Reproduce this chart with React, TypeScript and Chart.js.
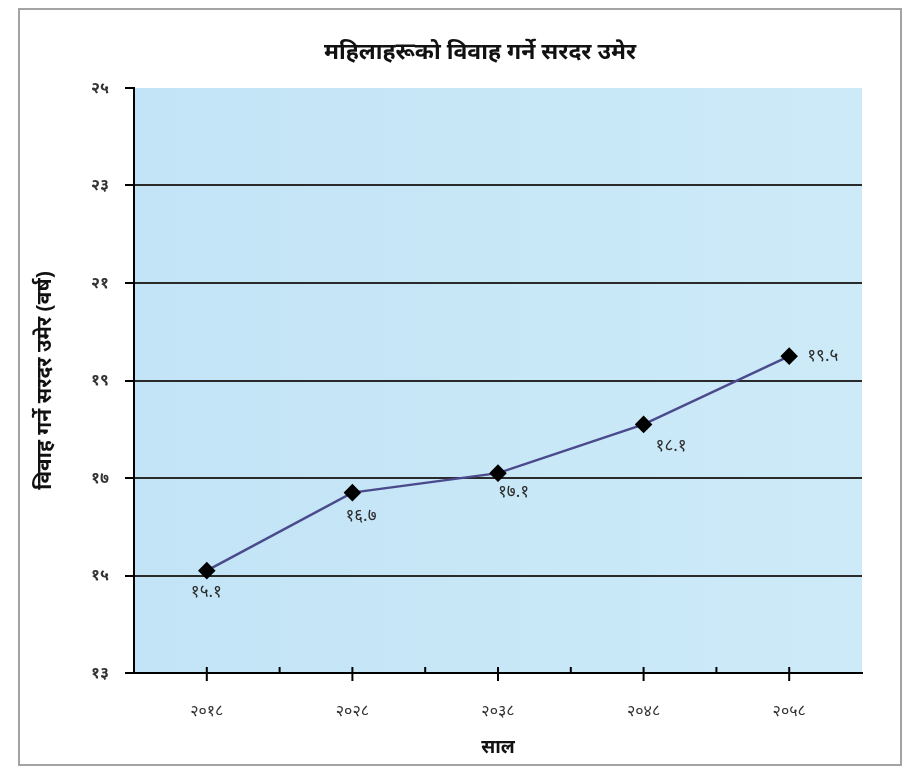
import React, { useEffect, useRef } from "react";
import { Chart, registerables } from "chart.js";

Chart.register(...registerables);

const chartTitle = "महिलाहरूको विवाह गर्ने सरदर उमेर";
const yAxisTitle = "विवाह गर्ने सरदर उमेर (वर्ष)";
const xAxisTitle = "साल";
const years = ["२०१८", "२०२८", "२०३८", "२०४८", "२०५८"];
const ages = [15.1, 16.7, 17.1, 18.1, 19.5];
const ageLabels = ["१५.१", "१६.७", "१७.१", "१८.१", "१९.५"];
const yTicks = [13, 15, 17, 19, 21, 23, 25];
const yTickLabels = ["१३", "१५", "१७", "१९", "२१", "२३", "२५"];

const FONT = "'Noto Sans', 'DejaVu Sans', sans-serif";

const decorPlugin = {
  id: "decor",
  beforeDraw(chart: any) {
    const { ctx, chartArea, width, height } = chart;
    ctx.save();
    ctx.fillStyle = "#ffffff";
    ctx.fillRect(0, 0, width, height);
    ctx.strokeStyle = "#a3a3a3";
    ctx.lineWidth = 2;
    ctx.strokeRect(11, 1, width - 12, height - 3);
    const g = ctx.createLinearGradient(chartArea.left, 0, chartArea.right, 0);
    g.addColorStop(0, "#c2e4f6");
    g.addColorStop(1, "#cdeaf8");
    ctx.fillStyle = g;
    ctx.fillRect(chartArea.left, chartArea.top, chartArea.right - chartArea.left, chartArea.bottom - chartArea.top);
    ctx.fillStyle = "#111";
    ctx.font = `bold 23px ${FONT}`;
    ctx.textAlign = "center";
    ctx.textBaseline = "middle";
    ctx.fillText(chartTitle, 472, 44);
    ctx.restore();
  },
  afterDatasetsDraw(chart: any) {
    const { ctx } = chart;
    const xs = chart.scales.x;
    const y0 = chart.chartArea.bottom;
    ctx.save();
    ctx.strokeStyle = "#000";
    ctx.lineWidth = 2;
    const n = years.length;
    for (let i = 0; i < n; i++) {
      const x = xs.getPixelForValue(i);
      ctx.beginPath();
      ctx.moveTo(x, y0 - 6);
      ctx.lineTo(x, y0 + 8);
      ctx.stroke();
      if (i < n - 1) {
        const xm = (x + xs.getPixelForValue(i + 1)) / 2;
        ctx.beginPath();
        ctx.moveTo(xm, y0 - 6);
        ctx.lineTo(xm, y0);
        ctx.stroke();
      }
    }
    const offsets = [
      [-16, 22],
      [-7, 24],
      [0, 19],
      [12, 22],
      [18, 0],
    ];
    const meta = chart.getDatasetMeta(0);
    ctx.fillStyle = "#2b2b2b";
    ctx.font = `17px ${FONT}`;
    ctx.textAlign = "left";
    ctx.textBaseline = "middle";
    meta.data.forEach((pt: any, i: number) => {
      ctx.fillText(ageLabels[i], pt.x + offsets[i][0], pt.y + offsets[i][1]);
    });
    ctx.restore();
  },
};

export default function App() {
  const ref = useRef<HTMLCanvasElement>(null);
  useEffect(() => {
    if (!ref.current) return;
    const chart = new Chart(ref.current, {
      type: "line",
      data: {
        labels: years,
        datasets: [
          {
            data: ages,
            borderColor: "#4a4a8c",
            borderWidth: 2.5,
            pointStyle: "rectRot",
            pointRadius: 7,
            pointBackgroundColor: "#000",
            pointBorderColor: "#000",
            tension: 0,
          },
        ],
      },
      options: {
        responsive: false,
        animation: false,
        layout: { padding: { left: 0, right: 40, top: 80, bottom: 0 } },
        plugins: { legend: { display: false }, tooltip: { enabled: false }, title: { display: false } },
        scales: {
          x: {
            offset: true,
            grid: { display: false, drawTicks: false },
            border: { display: true, color: "#000", width: 2 },
            ticks: { padding: 29, color: "#333", font: { size: 16, family: FONT } },
            title: {
              display: true,
              text: xAxisTitle,
              color: "#111",
              font: { size: 19, weight: "bold", family: FONT },
              padding: { top: 4, bottom: 8 },
            },
            afterFit: (s: any) => {
              s.height = 94;
            },
          },
          y: {
            min: 13,
            max: 25,
            ticks: {
              stepSize: 2,
              padding: 16,
              color: "#333",
              font: { size: 16, weight: "bold", family: FONT },
              callback: (v: any) => {
                const i = yTicks.indexOf(Number(v));
                return i >= 0 ? yTickLabels[i] : "";
              },
            },
            grid: {
              color: (c: any) => (c.tick && (c.tick.value === 25 || c.tick.value === 13) ? "rgba(0,0,0,0)" : "#2a2a2a"),
              tickColor: "#000",
              tickLength: 9,
              lineWidth: 2,
            },
            border: { display: true, color: "#000", width: 2 },
            title: {
              display: true,
              text: yAxisTitle,
              color: "#111",
              font: { size: 21, weight: "bold", family: FONT },
              padding: { top: 24, bottom: 4 },
            },
            afterFit: (s: any) => {
              s.width = 126;
            },
          },
        },
      },
      plugins: [decorPlugin],
    });
    return () => chart.destroy();
  }, []);
  return (
    <div>
      <canvas ref={ref} width={894} height={759} style={{ display: "block" }} />
    </div>
  );
}
